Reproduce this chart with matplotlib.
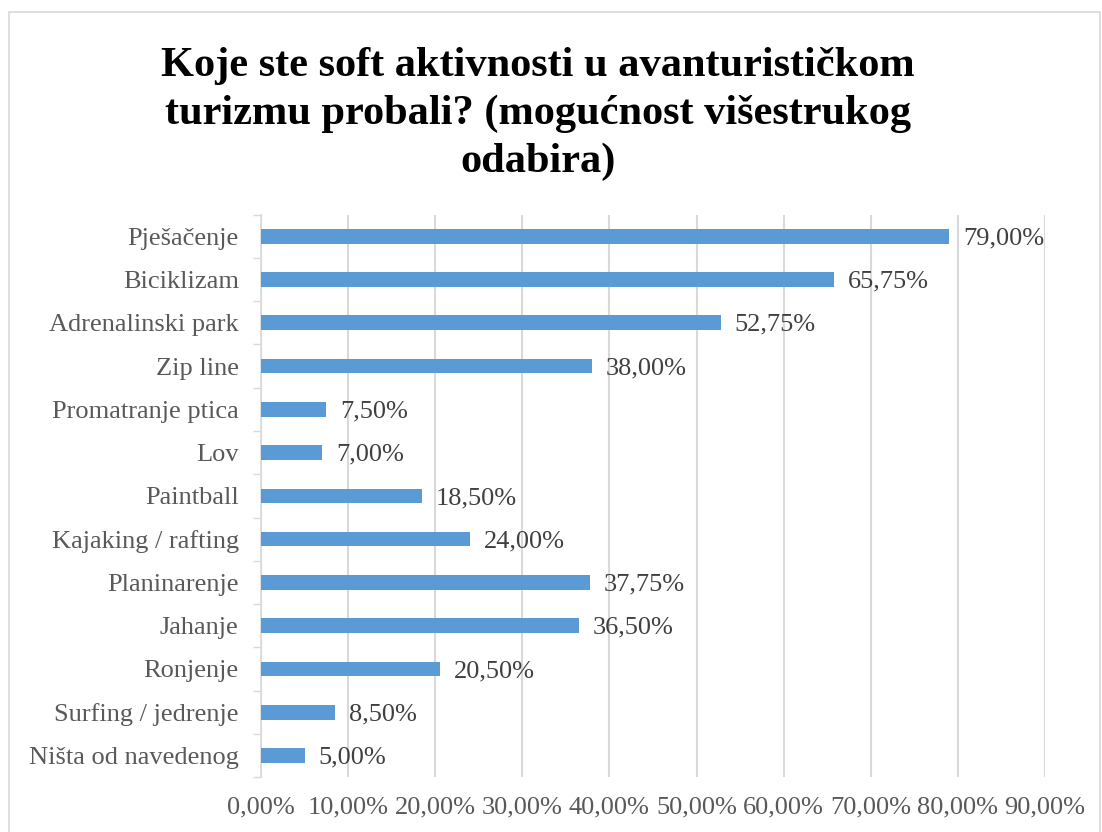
import matplotlib.pyplot as plt
import numpy as np

categories = ['Pješačenje', 'Biciklizam', 'Adrenalinski park', 'Zip line',
              'Promatranje ptica', 'Lov', 'Paintball', 'Kajaking / rafting',
              'Planinarenje', 'Jahanje', 'Ronjenje', 'Surfing / jedrenje',
              'Ništa od navedenog']
values = [79.00, 65.75, 52.75, 38.00, 7.50, 7.00, 18.50, 24.00,
          37.75, 36.50, 20.50, 8.50, 5.00]
xticks = [0, 10, 20, 30, 40, 50, 60, 70, 80, 90]

plt.rcParams['font.family'] = ['Liberation Serif', 'DejaVu Serif']

fig = plt.figure(figsize=(11.02, 8.32), dpi=100)
# light frame around the chart
fig.patches.append(plt.Rectangle((0.008, -0.01), 0.99, 0.996, transform=fig.transFigure,
                                 fill=False, edgecolor='#d9d9d9', linewidth=1.2))

ax = fig.add_axes([0.2368, 0.066, 0.7115, 0.676])
y = np.arange(len(categories))
ax.barh(y, values, height=0.34, color='#5b9bd5', zorder=3)

for yi, v in zip(y, values):
    ax.annotate(f'{v:.2f}'.replace('.', ',') + '%', (v, yi), xytext=(10, -1.5),
                textcoords='offset points', va='center', ha='left',
                fontsize=19, color='#404040', zorder=4)

ax.set_xlim(0, 90)
ax.set_ylim(len(categories) - 0.5, -0.5)
ax.set_xticks(xticks)
ax.set_xticklabels([f'{t},00%' for t in xticks], fontsize=19, color='#595959')
ax.set_yticks(y)
ax.set_yticklabels(categories, fontsize=19, color='#595959')
ax.set_yticks(np.arange(-0.5, len(categories), 1), minor=True)
ax.tick_params(axis='y', which='major', length=0, pad=16)
ax.tick_params(axis='y', which='minor', length=6, color='#d9d9d9', width=1)
ax.tick_params(axis='x', length=0, pad=14)

ax.grid(axis='x', color='#d9d9d9', linewidth=1.5, zorder=0)
for s in ['top', 'right', 'bottom']:
    ax.spines[s].set_visible(False)
ax.spines['left'].set_color('#d9d9d9')
ax.spines['left'].set_linewidth(1.2)

fig.text(0.488, 0.943, 'Koje ste soft aktivnosti u avanturističkom\nturizmu probali? (mogućnost višestrukog\nodabira)',
         ha='center', va='top', fontsize=30.5, fontweight='bold', color='black',
         linespacing=1.32)

fig.savefig('out.png', dpi=100)
